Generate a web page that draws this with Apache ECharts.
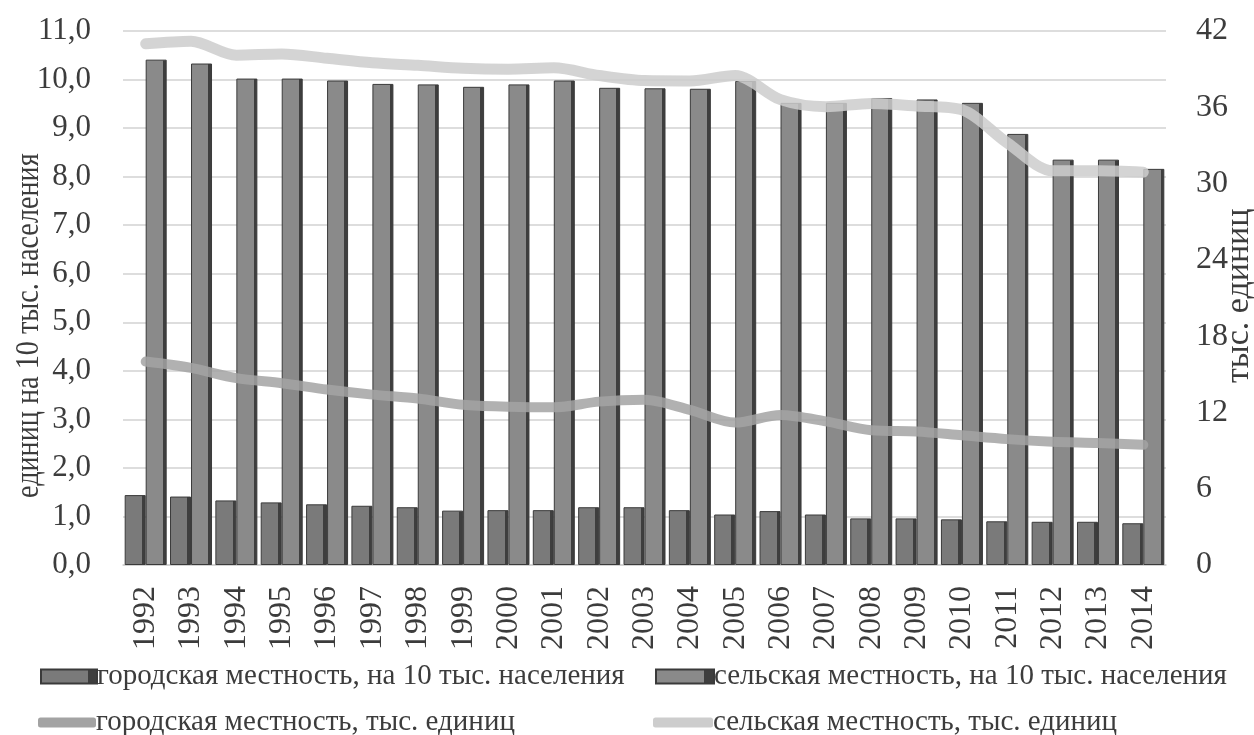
<!DOCTYPE html>
<html>
<head>
<meta charset="utf-8">
<script src="https://cdn.jsdelivr.net/npm/echarts@6/dist/echarts.min.js"></script>
<style>
html,body{margin:0;padding:0;background:#fff;}
#c{width:1254px;height:735px;}
</style>
</head>
<body>
<div id="c"></div>
<script>
var years = ['1992','1993','1994','1995','1996','1997','1998','1999','2000','2001','2002','2003','2004','2005','2006','2007','2008','2009','2010','2011','2012','2013','2014'];
var urbanPer10k = [1.44,1.41,1.33,1.29,1.25,1.22,1.19,1.12,1.13,1.13,1.19,1.19,1.13,1.04,1.11,1.04,0.96,0.96,0.94,0.90,0.89,0.89,0.86];
var ruralPer10k = [10.41,10.33,10.02,10.02,9.98,9.91,9.90,9.85,9.90,9.98,9.83,9.82,9.81,9.97,9.52,9.52,9.62,9.59,9.52,8.88,8.35,8.35,8.16];
var urbanThous = [16.0,15.5,14.7,14.3,13.8,13.4,13.1,12.6,12.45,12.4,12.85,13.0,12.2,11.2,11.8,11.3,10.6,10.5,10.2,9.9,9.7,9.6,9.45];
var ruralThous = [41.0,41.2,40.1,40.2,39.85,39.5,39.3,39.07,39.0,39.1,38.5,38.1,38.07,38.5,36.6,36.05,36.3,36.1,35.8,33.2,31.0,31.0,30.9];
var leftTicks = {min:0, max:11, interval:1};
var rightTicks = {min:0, max:42, interval:6};
var names = ['городская местность, на 10 тыс. населения','сельская местность, на 10 тыс. населения','городская местность, тыс. единиц','сельская местность, тыс. единиц'];
var axisNames = ['единиц на 10 тыс. населения','тыс. единиц'];

var font = 'Liberation Serif';
var txt = '#3c3c3c';
function barFill(c){
  return new echarts.graphic.LinearGradient(0,0,1,0,[
    {offset:0,color:c},{offset:0.82,color:c},{offset:0.82,color:'#3e3e3e'},{offset:1,color:'#3e3e3e'}]);
}
var chart = echarts.init(document.getElementById('c'), null, {renderer:'canvas'});
function leg(name, left, top, icon, w, h){
  return {data:[{name:name, icon:icon}], left:left, top:top, itemWidth:w, itemHeight:h, itemGap:0,
    textStyle:{fontFamily:font, fontSize:29, color:txt, padding:[0,0,0,-5]}, selectedMode:false};
}
chart.setOption({
  animation:false,
  backgroundColor:'#fff',
  grid:{left:123, right:88, top:31, bottom:170},
  legend:[
    leg(names[0], 35, 657, 'rect', 56, 14),
    leg(names[1], 650, 657, 'rect', 58, 14),
    leg(names[2], 33, 703, 'roundRect', 58, 10),
    leg(names[3], 648, 703, 'roundRect', 60, 10)
  ],
  xAxis:{type:'category', data:years, axisTick:{show:false},
    axisLine:{show:true, lineStyle:{color:'#d0d0d0', width:1.5}},
    axisLabel:{rotate:90, fontFamily:font, fontSize:32, color:txt, margin:21}},
  yAxis:[
    {type:'value', min:leftTicks.min, max:leftTicks.max, interval:leftTicks.interval,
     axisLine:{show:false}, axisTick:{show:false},
     splitLine:{lineStyle:{color:'#d2d2d2', width:1.5}},
     axisLabel:{fontFamily:font, fontSize:31, color:txt, margin:32,
       formatter:function(v){return v.toFixed(1).replace('.',',');}}},
    {type:'value', min:rightTicks.min, max:rightTicks.max, interval:rightTicks.interval,
     axisLine:{show:false}, axisTick:{show:false}, splitLine:{show:false},
     axisLabel:{fontFamily:font, fontSize:32, color:txt, margin:30}}
  ],
  graphic:[
    {type:'text', rotation:Math.PI/2, position:[12,498], scaleX:0.83, scaleY:1,
     style:{text:axisNames[0], font:'34px "Liberation Serif"', fill:txt}},
    {type:'text', rotation:Math.PI/2, position:[1222,383],
     style:{text:axisNames[1], font:'34px "Liberation Serif"', fill:txt}}
  ],
  series:[
    {name:names[0], type:'bar', data:urbanPer10k, barWidth:21, barGap:'0%',
     itemStyle:{color:barFill('#7a7a7a'), borderColor:'#3a3a3a', borderWidth:1}},
    {name:names[1], type:'bar', data:ruralPer10k, barWidth:21,
     itemStyle:{color:barFill('#8a8a8a'), borderColor:'#3a3a3a', borderWidth:1}},
    {name:names[2], type:'line', yAxisIndex:1, data:urbanThous, smooth:0.3, symbol:'none',
     lineStyle:{color:'#a3a3a3', width:10, opacity:0.85, cap:'round'}, itemStyle:{color:'#a3a3a3'}, z:5},
    {name:names[3], type:'line', yAxisIndex:1, data:ruralThous, smooth:0.3, symbol:'none',
     lineStyle:{color:'#cdcdcd', width:11, opacity:0.85, cap:'round'}, itemStyle:{color:'#cdcdcd'}, z:5}
  ]
});
</script>
</body>
</html>
